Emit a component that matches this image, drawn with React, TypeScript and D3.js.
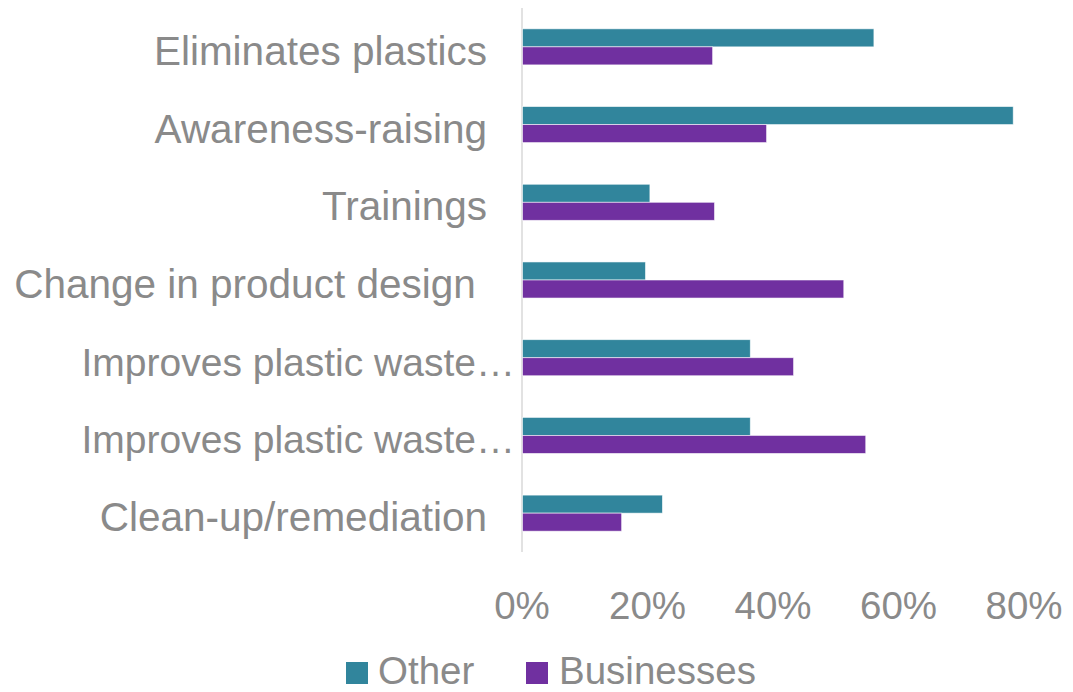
import React from 'react'
import * as d3 from 'd3'

// categories, top to bottom
const categories = [
  'Eliminates plastics',
  'Awareness-raising',
  'Trainings',
  'Change in product design ',
  'Improves plastic waste…',
  'Improves plastic waste… ',
  'Clean-up/remediation',
]
const seriesNames = ['Other', 'Businesses']
const otherValues = [0.56, 0.782, 0.203, 0.196, 0.363, 0.363, 0.223]
const businessValues = [0.303, 0.389, 0.306, 0.512, 0.432, 0.547, 0.158]
const tickValues = [0, 0.2, 0.4, 0.6, 0.8]

const colors = ['#31859C', '#7030A0']
const textColor = '#8a8a8a'
const font = '"Liberation Sans", Arial, sans-serif'

const W = 1073
const H = 692

const App = () => {
  const rows = categories.map((c, i) => ({ cat: c, values: [otherValues[i], businessValues[i]] }))

  const xScale = d3.scaleLinear().domain([0, 0.8]).range([522, 1024])
  const yScale = d3.scaleBand<string>()
    .domain(categories)
    .range([8, 552])
    .paddingInner(0.536)
    .paddingOuter(0.268)
  const inner = d3.scaleBand<string>().domain(seriesNames).range([0, yScale.bandwidth()])
  const fmt = d3.format('.0%')

  // labels Excel cut with an ellipsis run past the normal label edge
  const labelX = (c: string) => (c.includes('…') ? 515 : 487)

  return (
    <svg
      width={W}
      height={H}
      style={{ display: 'block', position: 'fixed', left: 0, top: 0, background: '#fff' }}
      fontFamily={font}
    >
      {/* axis line */}
      <line x1={xScale(0)} x2={xScale(0)} y1={8} y2={552} stroke="#d9d9d9" strokeWidth={1.5} />

      {rows.map((r) => (
        <g key={r.cat} transform={`translate(0,${yScale(r.cat)})`}>
          {r.values.map((v, j) => (
            <rect
              key={seriesNames[j]}
              x={xScale(0) + 0.5}
              y={inner(seriesNames[j])}
              width={xScale(v) - xScale(0)}
              height={inner.bandwidth()}
              fill={colors[j]}
              stroke="#ffffff"
              strokeOpacity={0.7}
              strokeWidth={0.8}
            />
          ))}
          <text
            x={labelX(r.cat)}
            y={yScale.bandwidth() / 2 + 18}
            textAnchor="end"
            fontSize={r.cat.includes('…') ? 39 : 40.5}
            fill={textColor}
          >
            {r.cat.trimEnd() + (r.cat.startsWith('Change') ? '\u00a0' : '')}
          </text>
        </g>
      ))}

      {/* x tick labels */}
      {tickValues.map((t) => (
        <text key={t} x={xScale(t)} y={619} textAnchor="middle" fontSize={38.5} fill={textColor}>
          {fmt(t)}
        </text>
      ))}

      {/* legend */}
      <g>
        <rect x={346} y={662} width={22} height={22} fill={colors[0]} />
        <text x={378} y={684} fontSize={38.5} fill={textColor}>{seriesNames[0]}</text>
        <rect x={526} y={662} width={22} height={22} fill={colors[1]} />
        <text x={559} y={684} fontSize={38.5} fill={textColor}>{seriesNames[1]}</text>
      </g>
    </svg>
  )
}

export default App
